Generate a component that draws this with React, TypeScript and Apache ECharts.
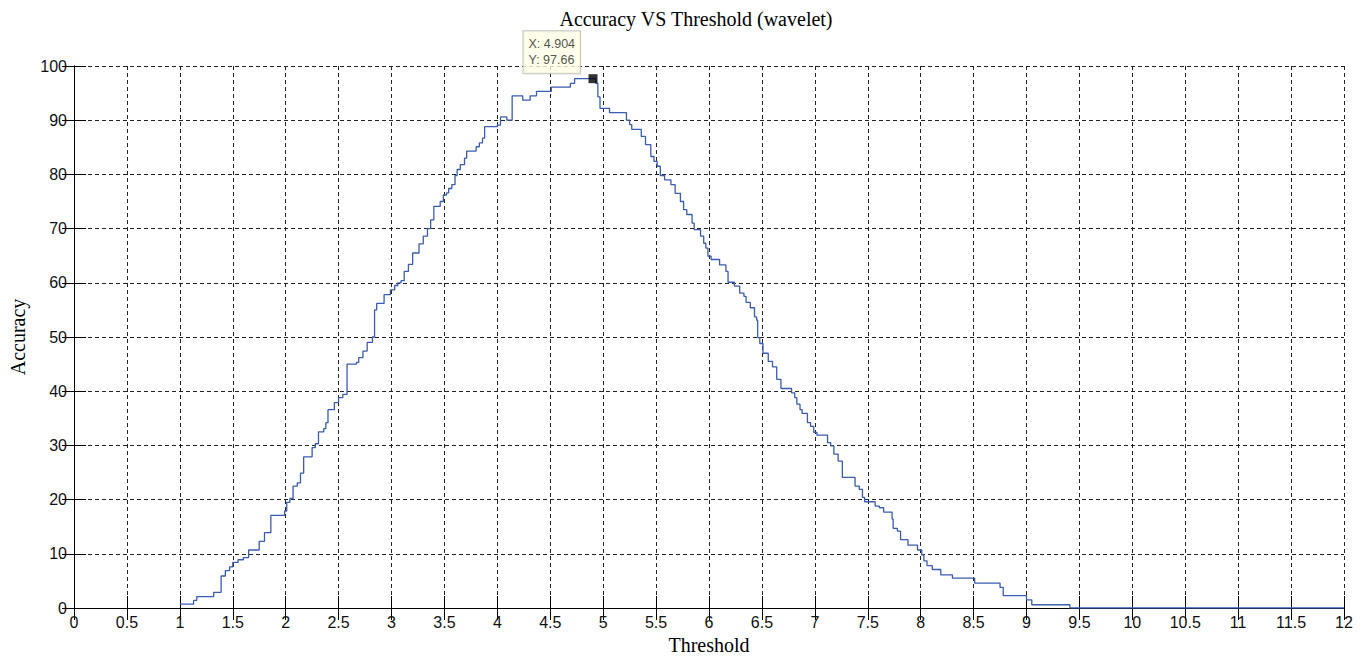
import React, { useEffect, useRef } from "react";
import * as echarts from "echarts";

// Step start thresholds and the accuracy held from that threshold on
const thresholds = [
  1.0, 1.13, 1.16, 1.32, 1.39, 1.43, 1.47, 1.5, 1.55, 1.6, 1.65, 1.75, 1.8, 1.86, 1.99,
  2.01, 2.04, 2.07, 2.11, 2.14, 2.17, 2.25, 2.28, 2.31, 2.36, 2.38, 2.4, 2.46, 2.5, 2.54,
  2.58, 2.67, 2.69, 2.73, 2.77, 2.82, 2.84, 2.86, 2.93, 2.99, 3.03, 3.06, 3.09, 3.12, 3.16,
  3.2, 3.26, 3.3, 3.34, 3.37, 3.4, 3.46, 3.49, 3.52, 3.54, 3.57, 3.6, 3.62, 3.65, 3.69,
  3.71, 3.8, 3.83, 3.86, 3.88, 4.0, 4.03, 4.09, 4.14, 4.24, 4.31, 4.37, 4.51, 4.69, 4.73,
  4.93, 4.95, 4.97, 5.06, 5.22, 5.25, 5.27, 5.36, 5.4, 5.45, 5.48, 5.51, 5.54, 5.58, 5.64,
  5.68, 5.73, 5.76, 5.79, 5.84, 5.86, 5.92, 5.95, 5.97, 5.99, 6.02, 6.1, 6.16, 6.18, 6.24,
  6.29, 6.33, 6.35, 6.39, 6.43, 6.45, 6.46, 6.48, 6.51, 6.56, 6.6, 6.64, 6.68, 6.78, 6.81,
  6.83, 6.86, 6.88, 6.93, 6.96, 6.99, 7.02, 7.12, 7.15, 7.18, 7.22, 7.26, 7.38, 7.42, 7.45,
  7.47, 7.57, 7.61, 7.65, 7.73, 7.74, 7.78, 7.81, 7.88, 7.97, 8.01, 8.03, 8.06, 8.11, 8.19,
  8.3, 8.51, 8.75, 8.78, 9.0, 9.05, 9.41, 12.0,
];
const accuracy = [
  0.7, 1.4, 2.1, 2.9, 5.9, 6.9, 7.6, 8.4, 8.9, 9.3, 10.7, 12.3, 13.9, 17.1, 17.9,
  19.5, 20.2, 22.5, 23.1, 24.9, 27.9, 29.6, 30.3, 32.5, 33.1, 34.2, 36.6, 37.9, 38.8, 39.4,
  45.0, 45.3, 46.2, 47.4, 49.0, 50.0, 55.0, 56.2, 57.8, 58.7, 59.5, 60.0, 60.4, 62.1, 63.4,
  65.5, 67.2, 68.6, 70.0, 71.6, 74.1, 75.0, 76.2, 76.6, 77.4, 78.1, 79.8, 80.9, 81.8, 83.0,
  84.3, 85.1, 85.8, 86.7, 88.8, 89.1, 90.6, 90.0, 94.5, 93.7, 94.5, 95.3, 96.1, 96.8, 97.66,
  96.8, 94.3, 92.2, 91.4, 90.0, 89.2, 88.3, 87.0, 85.5, 83.3, 82.4, 81.5, 79.8, 79.0, 78.1,
  76.5, 75.0, 73.5, 72.6, 71.0, 69.8, 68.6, 67.3, 66.4, 64.9, 64.3, 63.3, 62.1, 60.1, 59.4,
  58.1, 57.5, 56.4, 55.4, 53.7, 53.1, 49.9, 48.8, 47.0, 45.5, 44.5, 42.2, 40.5, 39.7, 38.8,
  37.6, 36.6, 35.9, 34.2, 33.5, 32.4, 31.9, 30.5, 29.9, 28.4, 27.1, 24.1, 22.5, 21.9, 20.4,
  19.6, 18.8, 18.5, 17.7, 16.4, 14.7, 14.2, 12.6, 11.6, 10.7, 9.8, 8.7, 7.8, 7.1, 6.1,
  5.5, 4.6, 3.8, 2.3, 1.5, 0.6, 0.0, 0.0,
];
const tipX = 4.904;
const tipY = 97.66;
const titleText = "Accuracy VS Threshold (wavelet)";
const xName = "Threshold";
const yName = "Accuracy";

const serif = '"Liberation Serif", "Times New Roman", serif';
const sans = '"Liberation Sans", Arial, sans-serif';

export default function App() {
  const ref = useRef<HTMLDivElement>(null);
  useEffect(() => {
    document.body.style.margin = "0";
    const chart = echarts.init(ref.current!, undefined, { renderer: "svg" });
    const data = thresholds.map((t, i) => [t, accuracy[i]]);
    const grid = { left: 73, right: 27, top: 66, bottom: 51 };
    const gridLine = { show: true, lineStyle: { color: "#222", width: 1, type: [4, 3] as any } };
    const axisLine = { show: true, lineStyle: { color: "#000", width: 1 } };
    const tick = { show: true, inside: true, length: 12, lineStyle: { color: "#000" } };
    chart.setOption({
      animation: false,
      backgroundColor: "#fff",
      title: {
        text: titleText,
        left: 691,
        textAlign: "center",
        top: 4,
        textStyle: { fontFamily: serif, fontSize: 20, fontWeight: "normal", color: "#000" },
      },
      grid,
      xAxis: [
        {
          type: "value",
          min: 0,
          max: 12,
          interval: 0.5,
          position: "bottom",
          axisLine,
          axisTick: tick,
          splitLine: gridLine,
          axisLabel: { color: "#111", fontFamily: sans, fontSize: 16, margin: 6 },
          name: xName,
          nameLocation: "middle",
          nameGap: 27,
          nameTextStyle: { fontFamily: serif, fontSize: 20, color: "#000" },
        },
        {
          type: "value",
          min: 0,
          max: 12,
          interval: 0.5,
          position: "top",
          axisLine,
          axisTick: tick,
          splitLine: { show: false },
          axisLabel: { show: false },
        },
      ],
      yAxis: [
        {
          type: "value",
          min: 0,
          max: 100,
          interval: 10,
          position: "left",
          axisLine,
          axisTick: tick,
          splitLine: gridLine,
          axisLabel: { color: "#111", fontFamily: sans, fontSize: 16, margin: 7 },
          name: yName,
          nameLocation: "middle",
          nameGap: 46,
          nameTextStyle: { fontFamily: serif, fontSize: 20, color: "#000" },
        },
        {
          type: "value",
          min: 0,
          max: 100,
          interval: 10,
          position: "right",
          axisLine,
          axisTick: tick,
          splitLine: { show: false },
          axisLabel: { show: false },
        },
      ],
      series: [
        {
          type: "line",
          step: "end",
          data,
          showSymbol: false,
          lineStyle: { color: "#3a5cb2", width: 1.3 },
          xAxisIndex: 0,
          yAxisIndex: 0,
          z: 3,
        },
        {
          type: "scatter",
          data: [[tipX, tipY]],
          symbol: "rect",
          symbolSize: 9,
          itemStyle: { color: "#000" },
          z: 5,
          label: {
            show: true,
            formatter: `X: ${tipX}\nY: ${tipY}`,
            position: [-65, -43],
            align: "left",
            verticalAlign: "top",
            backgroundColor: "#ffffe6",
            borderColor: "#b5b5b5",
            borderWidth: 1,
            padding: [5, 5, 5, 5],
            color: "#222",
            fontFamily: sans,
            fontSize: 12.5,
            lineHeight: 16,
          },
        },
      ],
    });
    return () => chart.dispose();
  }, []);
  return <div ref={ref} style={{ width: 1371, height: 660 }} />;
}
